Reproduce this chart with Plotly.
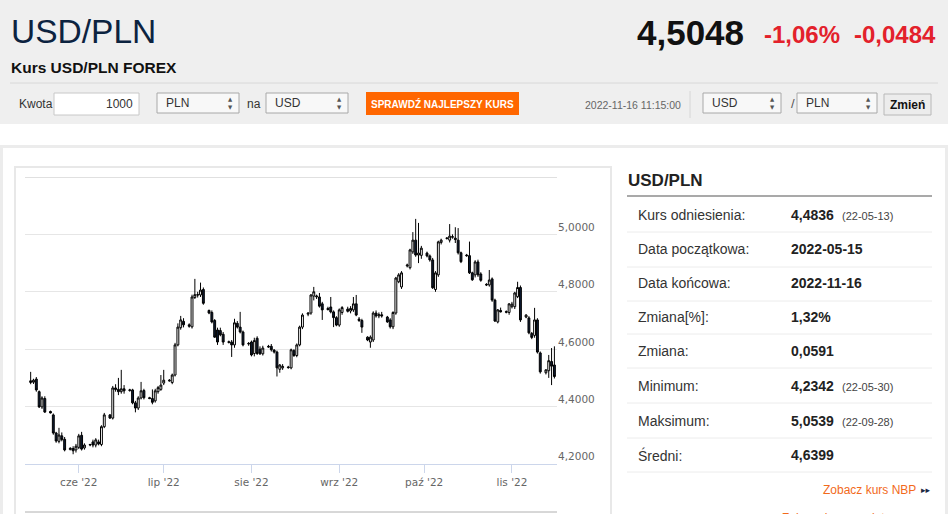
import pandas as pd
import plotly.graph_objects as go

W, H = 948, 514

# data: daily USD/PLN candles (no Saturday candles)
days = pd.date_range("2022-05-15", "2022-11-16", freq="D")
dates = [d for d in days if d.dayofweek != 5]

open_ = [
    4.484, 4.485, 4.496, 4.452, 4.399, 4.428,
    4.383, 4.371, 4.308, 4.279, 4.298, 4.286,
    4.250, 4.254, 4.249, 4.258, 4.300, 4.256,
    4.266, 4.277, 4.266, 4.277, 4.268, 4.330,
    4.371, 4.360, 4.465, 4.460, 4.452, 4.462,
    4.456, 4.458, 4.413, 4.395, 4.430, 4.456,
    4.431, 4.428, 4.420, 4.452, 4.460, 4.482,
    4.492, 4.484, 4.510, 4.615, 4.675, 4.697,
    4.685, 4.678, 4.780, 4.790, 4.789, 4.808,
    4.735, 4.728, 4.700, 4.667, 4.665, 4.652,
    4.626, 4.625, 4.615, 4.690, 4.677, 4.660,
    4.618, 4.625, 4.585, 4.638, 4.600, 4.584,
    4.610, 4.610, 4.597, 4.590, 4.530, 4.535,
    4.538, 4.535, 4.595, 4.578, 4.615, 4.677,
    4.722, 4.726, 4.785, 4.782, 4.782, 4.758,
    4.742, 4.747, 4.730, 4.710, 4.684, 4.728,
    4.740, 4.733, 4.737, 4.758, 4.705, 4.700,
    4.642, 4.625, 4.632, 4.726, 4.716, 4.720,
    4.712, 4.702, 4.678, 4.726, 4.835, 4.817,
    4.890, 4.884, 4.939, 4.980, 4.928, 4.927,
    4.935, 4.925, 4.911, 4.808, 4.859, 4.972,
    4.986, 4.980, 4.990, 4.987, 4.980, 4.936,
    4.928, 4.926, 4.866, 4.859, 4.904, 4.862,
    4.826, 4.824, 4.845, 4.771, 4.695, 4.735,
    4.731, 4.728, 4.748, 4.748, 4.783, 4.815,
    4.712, 4.709, 4.655, 4.648, 4.702, 4.587,
    4.518, 4.525, 4.557, 4.545,
]
high = [
    4.521, 4.497, 4.503, 4.456, 4.436, 4.436,
    4.386, 4.376, 4.312, 4.326, 4.310, 4.294,
    4.258, 4.262, 4.270, 4.305, 4.312, 4.272,
    4.270, 4.285, 4.290, 4.285, 4.335, 4.378,
    4.374, 4.472, 4.478, 4.500, 4.528, 4.475,
    4.462, 4.462, 4.420, 4.436, 4.486, 4.462,
    4.434, 4.460, 4.462, 4.472, 4.510, 4.528,
    4.496, 4.515, 4.622, 4.690, 4.716, 4.708,
    4.690, 4.790, 4.845, 4.800, 4.832, 4.815,
    4.738, 4.735, 4.705, 4.675, 4.675, 4.660,
    4.630, 4.632, 4.706, 4.698, 4.730, 4.665,
    4.625, 4.630, 4.640, 4.645, 4.610, 4.612,
    4.615, 4.618, 4.600, 4.595, 4.548, 4.548,
    4.542, 4.602, 4.600, 4.620, 4.682, 4.725,
    4.728, 4.792, 4.817, 4.790, 4.796, 4.765,
    4.748, 4.782, 4.735, 4.715, 4.742, 4.750,
    4.748, 4.750, 4.782, 4.789, 4.712, 4.706,
    4.645, 4.648, 4.732, 4.735, 4.728, 4.730,
    4.716, 4.708, 4.732, 4.852, 4.865, 4.872,
    4.898, 4.950, 5.008, 5.054, 5.040, 4.960,
    4.940, 4.930, 4.918, 4.872, 4.978, 4.985,
    4.990, 5.036, 5.000, 5.025, 5.022, 4.940,
    4.932, 4.975, 4.870, 4.910, 4.912, 4.868,
    4.830, 4.876, 4.850, 4.776, 4.740, 4.745,
    4.735, 4.760, 4.765, 4.800, 4.835, 4.822,
    4.722, 4.715, 4.660, 4.744, 4.708, 4.592,
    4.530, 4.580, 4.604, 4.610,
]
low = [
    4.478, 4.479, 4.452, 4.395, 4.392, 4.378,
    4.376, 4.302, 4.274, 4.272, 4.279, 4.244,
    4.248, 4.234, 4.240, 4.252, 4.247, 4.250,
    4.262, 4.258, 4.258, 4.265, 4.262, 4.325,
    4.357, 4.355, 4.452, 4.440, 4.445, 4.445,
    4.452, 4.408, 4.380, 4.388, 4.425, 4.425,
    4.426, 4.408, 4.414, 4.445, 4.455, 4.475,
    4.487, 4.478, 4.505, 4.610, 4.668, 4.676,
    4.675, 4.672, 4.775, 4.780, 4.782, 4.755,
    4.722, 4.690, 4.640, 4.615, 4.645, 4.615,
    4.620, 4.573, 4.605, 4.672, 4.655, 4.610,
    4.612, 4.575, 4.575, 4.580, 4.580, 4.578,
    4.605, 4.592, 4.585, 4.505, 4.518, 4.528,
    4.532, 4.530, 4.573, 4.572, 4.610, 4.670,
    4.715, 4.720, 4.770, 4.775, 4.745, 4.702,
    4.735, 4.725, 4.677, 4.680, 4.678, 4.720,
    4.728, 4.725, 4.730, 4.715, 4.695, 4.657,
    4.628, 4.605, 4.625, 4.710, 4.708, 4.710,
    4.692, 4.672, 4.670, 4.720, 4.830, 4.810,
    4.885, 4.878, 4.932, 4.922, 4.900, 4.915,
    4.920, 4.905, 4.810, 4.800, 4.852, 4.965,
    4.982, 4.972, 4.985, 4.970, 4.930, 4.900,
    4.922, 4.862, 4.838, 4.850, 4.852, 4.835,
    4.820, 4.818, 4.765, 4.695, 4.690, 4.728,
    4.725, 4.720, 4.742, 4.740, 4.778, 4.695,
    4.708, 4.652, 4.635, 4.640, 4.585, 4.515,
    4.512, 4.500, 4.475, 4.498,
]
close = [
    4.490, 4.492, 4.458, 4.399, 4.430, 4.381,
    4.378, 4.308, 4.280, 4.301, 4.285, 4.249,
    4.255, 4.246, 4.262, 4.298, 4.252, 4.266,
    4.268, 4.266, 4.284, 4.270, 4.330, 4.371,
    4.360, 4.465, 4.460, 4.452, 4.462, 4.455,
    4.458, 4.413, 4.395, 4.430, 4.455, 4.431,
    4.428, 4.415, 4.455, 4.466, 4.475, 4.492,
    4.490, 4.510, 4.615, 4.677, 4.702, 4.685,
    4.680, 4.782, 4.790, 4.789, 4.806, 4.760,
    4.726, 4.695, 4.642, 4.625, 4.650, 4.625,
    4.624, 4.615, 4.692, 4.677, 4.660, 4.615,
    4.620, 4.580, 4.630, 4.585, 4.584, 4.604,
    4.608, 4.598, 4.590, 4.535, 4.545, 4.540,
    4.536, 4.598, 4.578, 4.615, 4.677, 4.719,
    4.726, 4.789, 4.800, 4.785, 4.750, 4.737,
    4.738, 4.730, 4.710, 4.684, 4.737, 4.745,
    4.732, 4.742, 4.758, 4.719, 4.700, 4.677,
    4.632, 4.642, 4.726, 4.716, 4.720, 4.716,
    4.695, 4.678, 4.728, 4.848, 4.859, 4.866,
    4.893, 4.946, 4.980, 4.928, 4.935, 4.952,
    4.925, 4.911, 4.814, 4.866, 4.974, 4.980,
    4.987, 4.994, 4.992, 4.982, 4.936, 4.905,
    4.926, 4.866, 4.842, 4.904, 4.859, 4.840,
    4.824, 4.841, 4.771, 4.698, 4.737, 4.730,
    4.729, 4.758, 4.757, 4.796, 4.815, 4.702,
    4.719, 4.657, 4.641, 4.702, 4.590, 4.521,
    4.528, 4.560, 4.541, 4.5048,
]

month_ticks = ["2022-06-01", "2022-07-01", "2022-08-01", "2022-09-01", "2022-10-01", "2022-11-01"]
month_labels = ["cze '22", "lip '22", "sie '22", "wrz '22", "paź '22", "lis '22"]
y_ticks = [4.2, 4.4, 4.6, 4.8, 5.0]

# side table
row_labels = ["Kurs odniesienia:", "Data początkowa:", "Data końcowa:", "Zmiana[%]:",
              "Zmiana:", "Minimum:", "Maksimum:", "Średni:"]
row_values = ["4,4836", "2022-05-15", "2022-11-16", "1,32%", "0,0591", "4,2342", "5,0539", "4,6399"]
row_dates = ["(22-05-13)", "", "", "", "", "(22-05-30)", "(22-09-28)", ""]

# header
pair = "USD/PLN"
last_rate = "4,5048"
change_pct = "-1,06%"
change_abs = "-0,0484"
stamp = "2022-11-16 11:15:00"

assert len(dates) == len(open_) == len(high) == len(low) == len(close)

FONT = "Liberation Sans, Arial, sans-serif"
AXFONT = "DejaVu Sans, Verdana, sans-serif"


def px(x):
    return x / W


def py(y):
    return 1 - y / H


shapes = []
annotations = []


def rect(x0, y0, x1, y1, fill="rgba(0,0,0,0)", line="rgba(0,0,0,0)", lw=1, layer="below"):
    shapes.append(dict(type="rect", xref="paper", yref="paper", x0=px(x0), x1=px(x1),
                       y0=py(y1), y1=py(y0), fillcolor=fill,
                       line=dict(color=line, width=lw), layer=layer))


def hline(x0, x1, y, color, lw=1, layer="below"):
    shapes.append(dict(type="line", xref="paper", yref="paper", x0=px(x0), x1=px(x1),
                       y0=py(y), y1=py(y), line=dict(color=color, width=lw), layer=layer))


def vline(x, y0, y1, color, lw=1):
    shapes.append(dict(type="line", xref="paper", yref="paper", x0=px(x), x1=px(x),
                       y0=py(y0), y1=py(y1), line=dict(color=color, width=lw), layer="below"))


def text(t, x, y, size, color="#333", xanchor="left", yanchor="middle", family=FONT):
    annotations.append(dict(text=t, x=px(x), y=py(y), xref="paper", yref="paper",
                            xanchor=xanchor, yanchor=yanchor, showarrow=False,
                            font=dict(size=size, color=color, family=family)))


# page background pieces
rect(0, 0, W, 124, fill="#efefef")
rect(0, 145, W, 148, fill="#ececec")
rect(0, 145, 3, H, fill="#ececec")
rect(945, 145, W, H, fill="#ececec")
rect(15, 167, 611, H + 5, fill="white", line="#e8e8e8", lw=2)

# header texts
text(pair, 9, 31, 33.5, color="#0c2340")
text("<b>" + last_rate + "</b>", 746, 32, 35, color="#111", xanchor="right")
text("<b>" + change_pct + "</b>", 762, 35, 24, color="#e3212b")
text("<b>" + change_abs + "</b>", 938, 35, 24, color="#e3212b", xanchor="right")
text("<b>Kurs USD/PLN FOREX</b>", 9, 68, 15.5, color="#111")
hline(10, 938, 83, "#d8d8d8")

# converter row
text("Kwota", 17, 104, 12)
rect(54, 93, 139, 115, fill="white", line="#c8c8c8")
text("1000", 135, 104, 12, xanchor="right")


def select(x0, x1, label):
    rect(x0, 93, x1, 113, fill="#f8f8f8", line="#a8a8a8")
    text(label, x0 + 7, 103, 12)
    text("▲", x1 - 9, 99.5, 5.5, color="#555", xanchor="center", family=AXFONT)
    text("▼", x1 - 9, 106.5, 5.5, color="#555", xanchor="center", family=AXFONT)


select(157, 239, "PLN")
text("na", 245, 104, 12)
select(266, 348, "USD")
rect(366, 92, 519, 115, fill="#ff6600")
text("<b>SPRAWDŹ NAJLEPSZY KURS</b>", 442.5, 104, 10, color="white", xanchor="center")
text(stamp, 583, 105, 10.5, color="#666")
vline(690, 91, 118, "#d6d6d6")
select(703, 781, "USD")
text("/", 789, 104, 13, color="#555")
select(797, 877, "PLN")
rect(884, 94, 931, 115, fill="#ececec", line="#b8b8b8")
text("<b>Zmień</b>", 907.5, 105, 12, color="#111", xanchor="center")

# side table
text("<b>" + pair + "</b>", 626, 180, 17, color="#222")
hline(627, 932, 196, "#8c8c8c", lw=1.5)
row_mid = [215, 249, 283, 317, 351, 386, 421, 455]
row_sep = [232, 267, 301, 334, 368, 403, 438, 472]
for lab, val, dt, ym, ys in zip(row_labels, row_values, row_dates, row_mid, row_sep):
    text(lab, 636, ym, 14, color="#333")
    text("<b>" + val + "</b>", 789, ym, 14, color="#222")
    if dt:
        text(dt, 840, ym + 1, 11, color="#444")
    hline(627, 932, ys, "#ececec")
text("Zobacz kurs NBP", 918, 490, 12, color="#f26a1b", xanchor="right")
text("▸▸", 933, 490, 9, color="#1a2a44", xanchor="right", family=AXFONT)
text("Zobacz kursy walut", 887, 509, 12, color="#f26a1b", xanchor="right", yanchor="top")

# chart frame extras
hline(25, 557, 512, "#b0b0b0")

fig = go.Figure(go.Candlestick(
    x=dates, open=open_, high=high, low=low, close=close,
    increasing=dict(fillcolor="white", line=dict(color="#000", width=1)),
    decreasing=dict(fillcolor="#0d1b33", line=dict(color="#000", width=1)),
    showlegend=False, hoverinfo="x+y",
))

# top grid line at 5,2 (label hidden in the original)
shapes.append(dict(type="line", xref="paper", yref="y", x0=px(25), x1=px(557), y0=5.2, y1=5.2,
                   line=dict(color="#e0e0e0", width=2), layer="above"))

fig.update_layout(
    width=W, height=H, autosize=False,
    margin=dict(l=0, r=0, t=0, b=0),
    paper_bgcolor="white", plot_bgcolor="rgba(0,0,0,0)",
    separators=", ",
    boxgap=0.05,
    font=dict(family=FONT, color="#333"),
    shapes=shapes, annotations=annotations,
    xaxis=dict(
        domain=[px(25), px(557)],
        range=["2022-05-13 00:00", "2022-11-16 22:00"],
        rangeslider=dict(visible=False),
        tickvals=month_ticks, ticktext=month_labels,
        ticks="outside", ticklen=8, tickcolor="#ccd6eb",
        showline=True, linecolor="#ccd6eb", linewidth=1,
        showgrid=False, zeroline=False,
        tickfont=dict(family=AXFONT, size=10.5, color="#666"),
    ),
    yaxis=dict(
        domain=[py(464), py(177)],
        range=[4.2, 5.2],
        side="right",
        tickvals=y_ticks, tickformat=".4f",
        ticklabelposition="outside top",
        showgrid=True, gridcolor="#e6e6e6", gridwidth=1,
        zeroline=False, showline=False, ticks="",
        tickfont=dict(family=AXFONT, size=10.5, color="#666"),
    ),
)

# the page's default body margin would shift the whole figure by 8px
fig.write_html("out.html", config={"displayModeBar": False},
               post_script="document.body.style.margin='0';")
